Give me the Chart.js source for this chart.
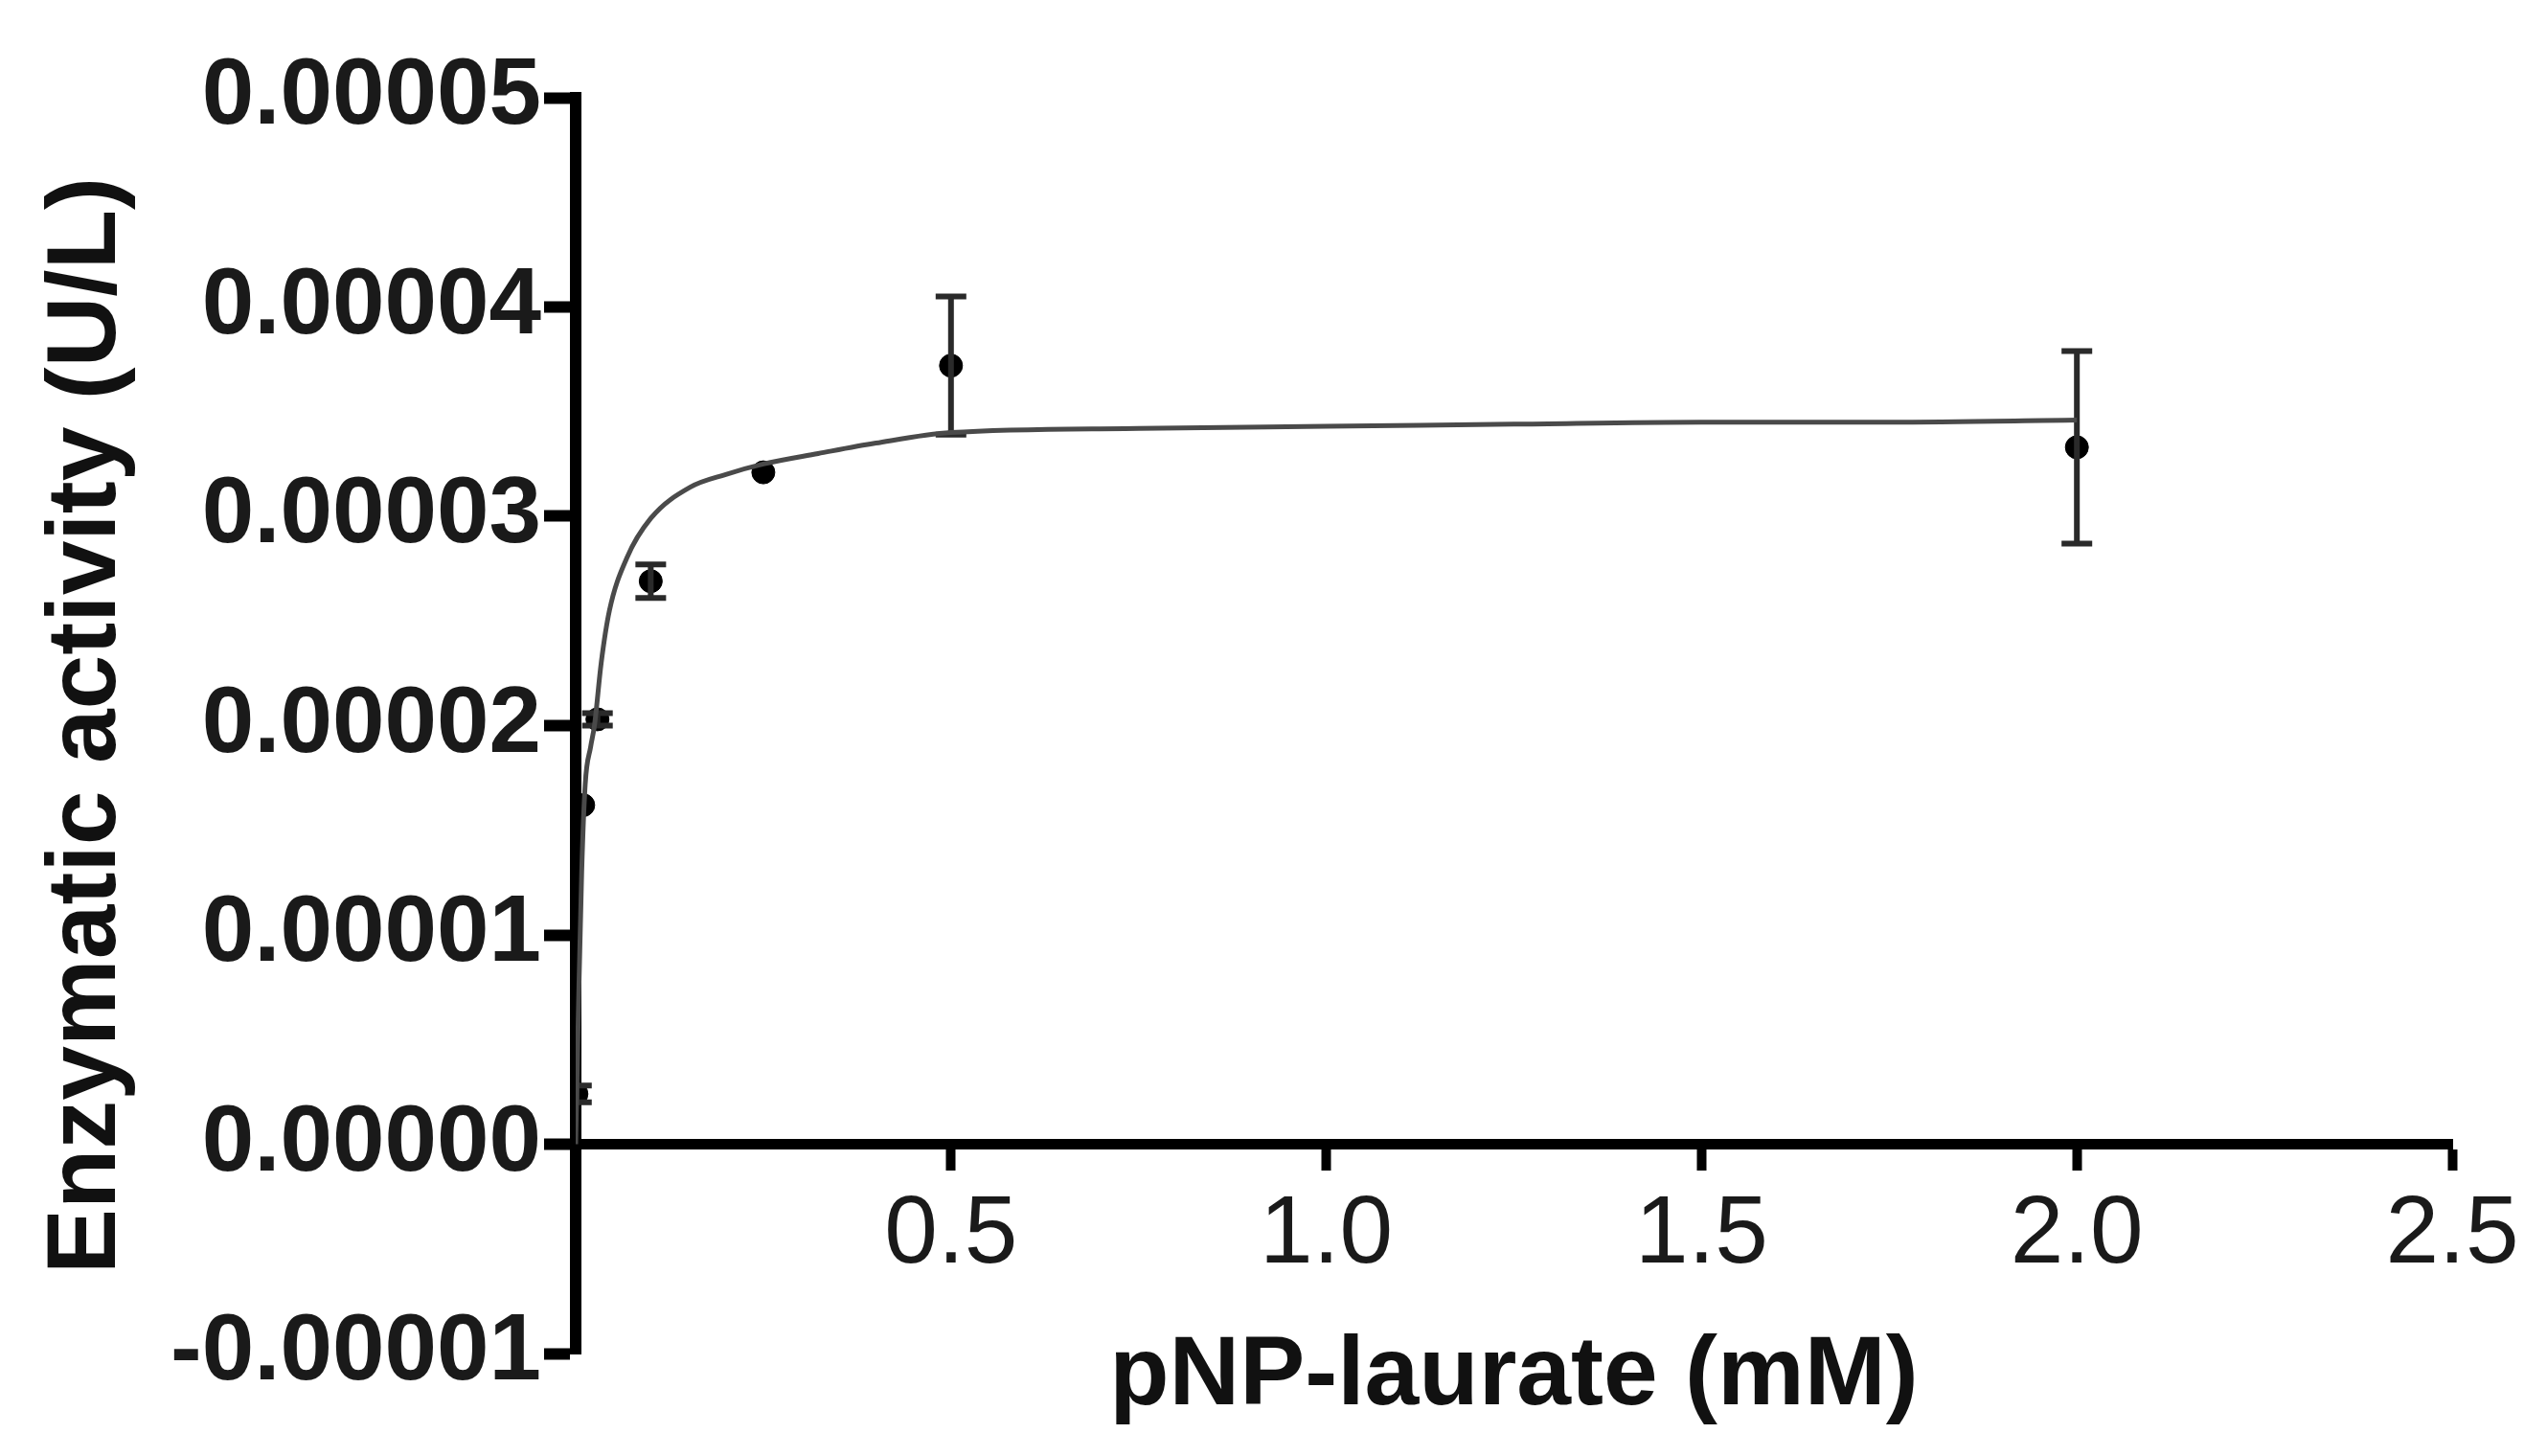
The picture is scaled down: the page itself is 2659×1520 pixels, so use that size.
<!DOCTYPE html>
<html>
<head>
    <title>Enzymatic activity vs pNP-laurate</title>
    <script src="https://cdn.jsdelivr.net/npm/chart.js"></script>
    <style>
        html, body { margin: 0; padding: 0; background: #fff; }
        #wrap { width: 2659px; height: 1520px; }
    </style>
</head>
<body>
    <div id="wrap"><canvas id="kinetics"></canvas></div>
    <script>
        // measured points (mean +/- SD)
        const substrate = [0.001, 0.01, 0.029, 0.1, 0.25, 0.5, 2.0];
        const activity  = [0.0000024, 0.0000162, 0.0000203, 0.0000269, 0.0000321, 0.0000372, 0.0000333];
        const errorSD   = [0.0000004, 0, 0.0000003, 0.0000008, 0, 0.0000033, 0.0000046];

        // fitted curve
        const fitX = [0, 0.004, 0.008, 0.0127, 0.02, 0.025, 0.034, 0.045, 0.068, 0.1, 0.153, 0.2, 0.25, 0.323, 0.4, 0.5, 0.75, 1.0, 1.25, 1.5, 1.75, 2.0];
        const fitY = [0, 0.0000070, 0.0000130, 0.0000172, 0.0000190, 0.0000200, 0.0000230, 0.0000255, 0.0000280, 0.0000299,
                      0.0000314, 0.0000320, 0.0000325, 0.0000330, 0.0000335, 0.0000340, 0.0000342, 0.0000343, 0.0000344,
                      0.0000345, 0.0000345, 0.0000346];

        const xTickValues = [0, 0.5, 1.0, 1.5, 2.0, 2.5];
        const yTickValues = [-0.00001, 0, 0.00001, 0.00002, 0.00003, 0.00004, 0.00005];

        const curve = fitX.map((x, i) => ({ x: x, y: fitY[i] }));
        const means = substrate.map((x, i) => ({ x: x, y: activity[i] }));

        // vertical error segments separated by gaps
        const bars = [];
        const caps = [];
        substrate.forEach((x, i) => {
            if (!errorSD[i]) return;
            bars.push({ x: x, y: activity[i] - errorSD[i] }, { x: x, y: activity[i] + errorSD[i] }, { x: x, y: null });
            caps.push({ x: x, y: activity[i] - errorSD[i] }, { x: x, y: activity[i] + errorSD[i] });
        });

        const tickFont = { family: "'Liberation Sans', Arial, sans-serif", size: 98, weight: 'bold' };
        const titleFont = { family: "'Liberation Sans', Arial, sans-serif", size: 102, weight: 'bold' };

        new Chart(document.getElementById('kinetics'), {
            type: 'scatter',
            data: {
                datasets: [
                    {
                        type: 'line', data: curve, borderColor: '#4a4a4a', borderWidth: 5,
                        pointRadius: 0, cubicInterpolationMode: 'monotone', fill: false
                    },
                    {
                        type: 'line', data: bars, borderColor: '#2a2a2a', borderWidth: 6,
                        pointRadius: 0, spanGaps: false, fill: false
                    },
                    {
                        data: caps, pointStyle: 'line', pointRadius: 16, borderColor: '#2a2a2a',
                        borderWidth: 6, pointHoverRadius: 16
                    },
                    {
                        data: means, pointStyle: 'circle', pointRadius: 12, backgroundColor: '#000',
                        borderColor: '#000', borderWidth: 1
                    }
                ]
            },
            options: {
                responsive: true,
                maintainAspectRatio: false,
                animation: false,
                devicePixelRatio: 1,
                layout: { padding: { left: 0, top: 102, right: 99, bottom: 107 } },
                plugins: { legend: { display: false }, tooltip: { enabled: false } },
                scales: {
                    x: {
                        type: 'linear',
                        position: { y: 0 },
                        min: 0, max: 2.5,
                        afterBuildTicks: s => { s.ticks = xTickValues.map(v => ({ value: v })); },
                        grid: { display: true, drawOnChartArea: false, drawTicks: true, tickLength: 22, tickWidth: 10, tickColor: '#000' },
                        border: { display: true, color: '#000', width: 11 },
                        ticks: {
                            padding: 14, color: '#1a1a1a', maxRotation: 0,
                            font: { family: "'Liberation Sans', Arial, sans-serif", size: 100 },
                            callback: v => v === 0 ? '' : v.toFixed(1)
                        },
                        title: { display: true, text: 'pNP-laurate (mM)', color: '#111', font: titleFont, padding: { top: 12, bottom: 0 } }
                    },
                    y: {
                        type: 'linear',
                        position: 'left',
                        min: -0.00001, max: 0.00005,
                        afterBuildTicks: s => { s.ticks = yTickValues.map(v => ({ value: v })); },
                        afterFit: s => { s.width = 601; },
                        grid: { display: true, drawOnChartArea: false, drawTicks: true, tickLength: 33, tickWidth: 12, tickColor: '#000' },
                        border: { display: true, color: '#000', width: 12 },
                        ticks: {
                            padding: 3, color: '#1a1a1a', font: tickFont,
                            callback: v => v.toFixed(5)
                        },
                        title: { display: true, text: 'Enzymatic activity (U/L)', color: '#111', font: titleFont, padding: { top: 31, bottom: 0 } }
                    }
                }
            }
        });
    </script>
</body>
</html>
